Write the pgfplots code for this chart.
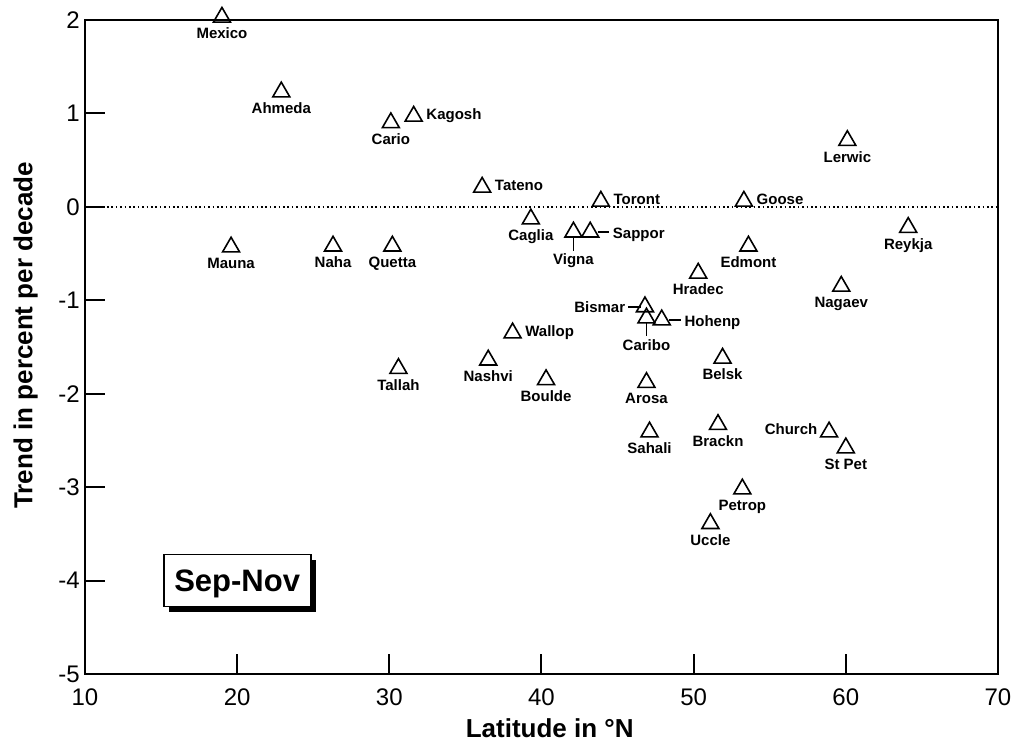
\documentclass[border=0pt]{standalone}
\usepackage{fontspec}
\setmainfont{Liberation Sans}
\usepackage{pgfplots}
\pgfplotsset{compat=1.18}
\usepackage{pgfplotstable}
\usetikzlibrary{shadows}

% labels below the triangle
\pgfplotstableread[col sep=comma]{
x,y,name
19.0,2.03,Mexico
22.9,1.23,Ahmeda
30.1,0.90,Cario
19.6,-0.43,Mauna
26.3,-0.42,Naha
30.2,-0.42,Quetta
39.3,-0.13,Caglia
60.1,0.71,Lerwic
64.1,-0.22,Reykja
53.6,-0.42,Edmont
50.3,-0.71,Hradec
59.7,-0.85,Nagaev
51.9,-1.62,Belsk
30.6,-1.73,Tallah
36.5,-1.64,Nashvi
40.3,-1.85,Boulde
46.9,-1.88,Arosa
47.1,-2.41,Sahali
51.6,-2.33,Brackn
60.0,-2.58,St Pet
53.2,-3.02,Petrop
51.1,-3.39,Uccle
}\databelow
% labels right of the triangle
\pgfplotstableread[col sep=comma]{
x,y,name
31.6,0.97,Kagosh
36.1,0.21,Tateno
43.9,0.06,Toront
53.3,0.06,Goose
38.1,-1.35,Wallop
}\dataright
% labels left of the triangle
\pgfplotstableread[col sep=comma]{
x,y,name
58.9,-2.41,Church
}\dataleft
% labels right, with a leader line
\pgfplotstableread[col sep=comma]{
x,y,name
43.2,-0.27,Sappor
47.9,-1.21,Hohenp
}\datarightline
% labels below, with a leader line
\pgfplotstableread[col sep=comma]{
x,y,name
42.1,-0.27,Vigna
46.9,-1.19,Caribo
}\databelowline
% labels left, with a leader line
\pgfplotstableread[col sep=comma]{
x,y,name
46.8,-1.07,Bismar
}\dataleftline

\begin{document}
\begin{tikzpicture}
\useasboundingbox (-42.5bp,-36.5bp) rectangle (473bp,337bp);
\begin{axis}[
  at={(0,0)}, anchor=south west,
  width=456.5bp, height=327bp, scale only axis,
  xmin=10, xmax=70, ymin=-5, ymax=2,
  xtick={10,20,...,70}, ytick={-5,-4,...,2},
  tick align=inside, tick pos=left,
  major tick length=10bp,
  every tick/.style={black, line width=1bp},
  axis line style={line width=1.3bp},
  tick label style={font=\fontsize{12bp}{14bp}\selectfont},
  /pgf/number format/assume math mode=true,
  xticklabel style={inner sep=0pt, yshift=-7bp},
  yticklabel style={inner sep=0pt, xshift=-2.5bp},
  xlabel={Latitude in °N},
  ylabel={Trend in percent per decade},
  label style={font=\bfseries\fontsize{13bp}{15bp}\selectfont},
  xlabel style={at={(axis description cs:0.509,-0.083)}, anchor=center},
  ylabel style={at={(axis description cs:-0.065,0.518)}, anchor=center},
  clip=false,
  only marks,
  mark=triangle,
  mark size=4.9bp,
  point meta=explicit symbolic,
  nodes near coords,
  every node near coord/.append style={font=\bfseries\fontsize{7.5bp}{9bp}\selectfont, inner sep=0pt, black},
]
\addplot[dash pattern=on 0.8bp off 1.4bp, line width=0.8bp, mark=none, nodes near coords={}, sharp plot] coordinates {(10,0) (70,0)};

\addplot[black, mark options={line width=0.8bp, solid},
  every node near coord/.append style={anchor=north, yshift=-5bp}]
  table[x=x, y=y, meta=name] {\databelow};
\addplot[black, mark options={line width=0.8bp, solid},
  every node near coord/.append style={anchor=base west, xshift=6bp, yshift=-1.8bp}]
  table[x=x, y=y, meta=name] {\dataright};
\addplot[black, mark options={line width=0.8bp, solid},
  every node near coord/.append style={anchor=base east, xshift=-5.5bp, yshift=-1bp}]
  table[x=x, y=y, meta=name] {\dataleft};
\addplot[black, mark options={line width=0.8bp, solid},
  every node near coord/.append style={anchor=base west, xshift=11bp, yshift=-3.2bp}]
  table[x=x, y=y, meta=name] {\datarightline};
\addplot[black, mark options={line width=0.8bp, solid},
  every node near coord/.append style={anchor=north, yshift=-10.5bp}]
  table[x=x, y=y, meta=name] {\databelowline};
\addplot[black, mark options={line width=0.8bp, solid},
  every node near coord/.append style={anchor=base east, xshift=-9.5bp, yshift=-3bp}]
  table[x=x, y=y, meta=name] {\dataleftline};

% leader lines
\draw[line width=0.7bp] ([xshift=3.75bp]axis cs:43.2,-0.27) -- ([xshift=9.5bp]axis cs:43.2,-0.27);
\draw[line width=0.7bp] ([xshift=3.75bp]axis cs:47.9,-1.21) -- ([xshift=9.5bp]axis cs:47.9,-1.21);
\draw[line width=0.7bp] ([yshift=-2.4bp]axis cs:42.1,-0.27) -- ([yshift=-9.3bp]axis cs:42.1,-0.27);
\draw[line width=0.7bp] ([yshift=-2.4bp]axis cs:46.9,-1.19) -- ([yshift=-8.8bp]axis cs:46.9,-1.19);
\draw[line width=0.7bp] ([xshift=-2bp]axis cs:46.8,-1.07) -- ([xshift=-8.5bp]axis cs:46.8,-1.07);

\node[draw, line width=0.85bp, fill=white, minimum width=73.5bp, minimum height=26bp,
  inner sep=0pt, text depth=0pt,
  general shadow={fill=black, shadow xshift=2.75bp, shadow yshift=-2.75bp},
  font=\bfseries\fontsize{15.5bp}{18bp}\selectfont] at (axis cs:20,-4) {Sep-Nov};
\end{axis}
\end{tikzpicture}
\end{document}
